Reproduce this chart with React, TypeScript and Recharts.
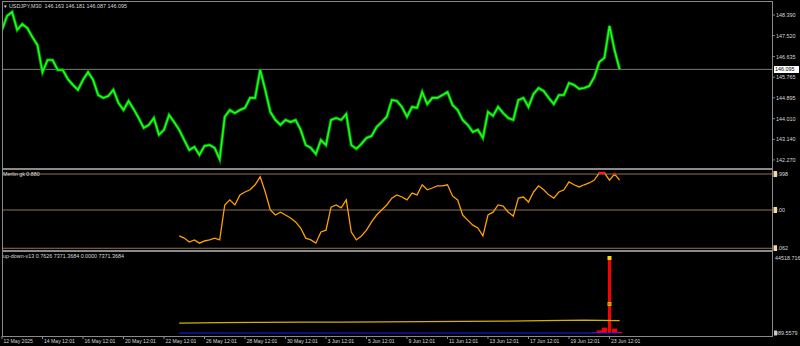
import React from "react";
import { ComposedChart, Line, XAxis, YAxis, ReferenceLine, Bar, Scatter } from "recharts";

// ---------- DATA ----------
const xTickLabels = [
  "12 May 2025", "14 May 12:01", "16 May 12:01", "20 May 12:01", "22 May 12:01",
  "26 May 12:01", "28 May 12:01", "30 May 12:01", "3 Jun 12:01", "5 Jun 12:01",
  "9 Jun 12:01", "11 Jun 12:01", "13 Jun 12:01", "17 Jun 12:01", "19 Jun 12:01",
  "23 Jun 12:01",
];
const xTickStep = 8; // points between date labels

// USDJPY M30 closes (sampled ~every 12 bars)
const closePrices = [
  147.76, 148.35, 148.52, 147.76, 148.01, 147.84, 147.46, 147.12, 145.98, 146.49,
  146.49, 146.07, 146.07, 145.69, 145.44, 145.23, 145.65, 145.98, 145.65, 145.01,
  144.89, 144.97, 145.23, 144.68, 144.38, 144.76, 144.42, 144.04, 143.62, 143.75,
  144.04, 143.33, 143.54, 144.17, 143.87, 143.54, 143.11, 142.69, 142.82, 142.48,
  142.86, 142.90, 142.78, 142.30, 144.09, 144.38, 144.25, 144.38, 144.47, 144.89,
  144.89, 146.07, 145.23, 144.30, 143.96, 143.75, 143.96, 143.87, 143.96, 143.54,
  142.90, 142.78, 142.52, 143.11, 142.90, 143.96, 144.04, 143.96, 144.21, 142.90,
  142.74, 142.95, 143.20, 143.28, 143.66, 143.87, 144.09, 144.80, 144.76, 144.51,
  144.09, 144.51, 144.47, 145.14, 144.63, 144.89, 144.89, 145.01, 145.14, 144.59,
  144.38, 143.96, 143.75, 143.45, 143.54, 143.20, 144.30, 144.13, 144.51, 144.25,
  144.04, 143.96, 144.80, 144.89, 144.51, 145.06, 145.31, 145.18, 144.89, 144.63,
  145.01, 145.01, 145.52, 145.44, 145.27, 145.31, 145.39, 145.77, 146.41, 146.58,
  147.93, 146.91, 146.10,
];
const priceTicks = [148.39, 147.52, 146.635, 145.765, 144.895, 144.01, 143.14, 142.27];
const bidPrice = 146.095;
const headerText = "USDJPY,M30  146.163 146.181 146.087 146.095";

// Merlin gk 0.880
const merlinStart = 35;
const merlinValues = [
  -0.72, -0.78, -0.89, -0.83, -0.92, -0.86, -0.83, -0.78, -0.83, 0.14,
  0.28, 0.14, 0.42, 0.50, 0.56, 0.70, 0.92, 0.50, 0.00, -0.14,
  -0.06, -0.14, -0.22, -0.33, -0.50, -0.78, -0.83, -0.92, -0.61, -0.56,
  0.08, 0.14, 0.06, 0.28, -0.61, -0.83, -0.72, -0.56, -0.33, -0.14,
  0.00, 0.14, 0.33, 0.42, 0.36, 0.28, 0.47, 0.42, 0.70, 0.56,
  0.61, 0.67, 0.67, 0.70, 0.39, 0.28, -0.14, -0.28, -0.42, -0.50,
  -0.72, -0.14, -0.06, 0.14, 0.11, -0.06, -0.17, 0.33, 0.36, 0.22,
  0.50, 0.67, 0.56, 0.42, 0.33, 0.50, 0.56, 0.78, 0.70, 0.64,
  0.70, 0.75, 0.83, 1.03, 1.03, 0.83, 1.00, 0.83,
];
const merlinLevels = [0.998, 0, -1.062];
const merlinLabels = ["0.998", "0.00", "1.062"];
const merlinTitle = "Merlin gk 0.880";

// up-down-v13
const udTitle = "up-down-v13 0.7626 7371.3684 0.0000 7371.3684";
const udYellowIdx = [35, 43, 51, 59, 67, 75, 83, 91, 99, 107, 115, 122];
const udYellowVal = [5900, 6100, 6300, 6400, 6500, 6600, 6750, 6850, 7050, 7350, 7650, 7371.3684];
const udBlueIdx = [35, 122];
const udBlueVal = [0, 0];
const udRedIdx = [116, 117, 118, 119, 120, 121, 122];
const udRedVal = [0, 400, 1500, 3200, 44518.716, 2600, 700];
const udMarkIdx = [120, 120];
const udMarkVal = [44518.716, 17200];
const udAxisLabels = ["44518.716", "989.5579"];
const udAxisValues = [44518.716, 0];

// ---------- STYLE ----------
const FONT = "'Liberation Sans', Arial, sans-serif";
const TXT = "#d8d8d8";
const FS = 5.4;
const X_DOMAIN: [number, number] = [0, 152.3];

const priceData = closePrices.map((p, i) => ({ i, p }));
const merlinData = merlinValues.map((v, k) => ({
  i: merlinStart + k,
  v,
  red: v >= merlinLevels[0] ? v : null,
}));
const yellowData = udYellowIdx.map((i, k) => ({ i, y: udYellowVal[k] }));
const blueData = udBlueIdx.map((i, k) => ({ i, b: udBlueVal[k] }));
const redData = udRedIdx.map((i, k) => ({ i, h: udRedVal[k] }));
const markData = udMarkIdx.map((i, k) => ({ i, m: udMarkVal[k], k }));
const xTicks = xTickLabels.map((_, k) => k * xTickStep);

const PriceTick = (props: any) => {
  const { x, y, payload } = props;
  return (
    <g>
      <line x1={x} x2={x + 2} y1={y} y2={y} stroke="#a0a0a0" strokeWidth={0.8} />
      <text x={x + 3} y={y + 2} fill={TXT} fontSize={FS} fontFamily={FONT}>
        {Number(payload.value).toFixed(3)}
      </text>
    </g>
  );
};

const MerlinTick = (props: any) => {
  const { x, y, payload, index } = props;
  return (
    <g>
      <text x={x + 1.5} y={y + 2} fill={TXT} fontSize={FS} fontFamily={FONT}>
        {merlinLabels[index] ?? payload.value}
      </text>
      <rect x={x + 0.5} y={y - 3} width={3.5} height={6} fill="#f2d9a6" />
    </g>
  );
};

const UdTick = (props: any) => {
  const { x, y, index } = props;
  return (
    <g>
      <text x={x + 2} y={y + 2} fill={TXT} fontSize={FS} fontFamily={FONT}>
        {udAxisLabels[index]}
      </text>
      {index === 1 ? <rect x={x + 1} y={y - 2.5} width={3} height={5} fill="#c8c8c8" /> : null}
    </g>
  );
};

const DateTick = (props: any) => {
  const { x, y, index } = props;
  return (
    <g>
      <line x1={x} x2={x} y1={y} y2={y + 3} stroke="#b0b0b0" strokeWidth={0.8} />
      <text x={x + 1.5} y={y + 6.5} fill={TXT} fontSize={FS - 0.3} fontFamily={FONT}>
        {xTickLabels[index]}
      </text>
    </g>
  );
};

const HistShape = (props: any) => {
  const { x, y, width, height, value } = props;
  const v = Array.isArray(value) ? value[1] : value;
  const w = v > 10000 ? 3 : 5.2;
  const cx = x + width / 2;
  return <rect x={cx - w / 2} y={y} width={w} height={Math.max(0, height)} fill="#ff0000" />;
};

const MarkShape = (props: any) => {
  const { cx, cy, payload } = props;
  if (payload.k === 0) {
    return <rect x={cx - 2} y={cy - 2} width={4} height={4} fill="#ffd700" />;
  }
  return (
    <g>
      <rect x={cx - 2} y={cy - 2} width={4} height={4} fill="#e8c000" />
      <line x1={cx - 1.5} y1={cy - 1.5} x2={cx + 1.5} y2={cy + 1.5} stroke="#8a5a00" strokeWidth={0.7} />
      <line x1={cx - 1.5} y1={cy + 1.5} x2={cx + 1.5} y2={cy - 1.5} stroke="#8a5a00" strokeWidth={0.7} />
    </g>
  );
};

const frame = (top: number, height: number): React.CSSProperties => ({
  position: "absolute",
  left: 2,
  top,
  width: 771,
  height,
  border: "1px solid #8a8a8a",
  boxSizing: "border-box",
  pointerEvents: "none",
});

const label = (left: number, top: number): React.CSSProperties => ({
  position: "absolute",
  left,
  top,
  color: TXT,
  fontFamily: FONT,
  fontSize: FS,
  whiteSpace: "pre",
  lineHeight: "7px",
});

export default function App() {
  return (
    <div style={{ position: "fixed", left: 0, top: 0, width: 800, height: 346, background: "#000", overflow: "hidden" }}>
      {/* Price pane */}
      <div style={{ position: "absolute", left: 0, top: 0 }}>
        <ComposedChart width={800} height={170} data={priceData} margin={{ top: 2, right: 0, left: 2, bottom: 2 }}>
          <XAxis type="number" dataKey="i" domain={X_DOMAIN} hide allowDataOverflow />
          <YAxis
            orientation="right"
            width={27}
            domain={[141.93, 148.94]}
            ticks={priceTicks}
            tick={<PriceTick />}
            tickLine={false}
            axisLine={false}
            tickSize={0}
            tickMargin={0}
            interval={0}
            allowDataOverflow
          />
          <ReferenceLine y={bidPrice} stroke="#7a7a7a" strokeWidth={1} />
          <Line type="linear" dataKey="p" stroke="#008a00" strokeWidth={3.2} dot={false} isAnimationActive={false} />
          <Line type="linear" dataKey="p" stroke="#1aff1a" strokeWidth={1.6} dot={false} isAnimationActive={false} />
        </ComposedChart>
      </div>
      <div style={{ position: "absolute", left: 774, top: 66, width: 25, height: 7, background: "#fff", color: "#000", fontFamily: FONT, fontSize: FS, lineHeight: "7px", paddingLeft: 1, boxSizing: "border-box" }}>
        {bidPrice.toFixed(3)}
      </div>

      {/* Merlin pane */}
      <div style={{ position: "absolute", left: 0, top: 169 }}>
        <ComposedChart width={800} height={82} data={merlinData} margin={{ top: 1, right: 0, left: 2, bottom: 1 }}>
          <XAxis type="number" dataKey="i" domain={X_DOMAIN} hide allowDataOverflow />
          <YAxis
            orientation="right"
            width={27}
            domain={[-1.11, 1.11]}
            ticks={merlinLevels}
            tick={<MerlinTick />}
            tickLine={false}
            axisLine={false}
            tickSize={0}
            tickMargin={0}
            interval={0}
            allowDataOverflow
          />
          {merlinLevels.map((lv) => (
            <ReferenceLine key={lv} y={lv} stroke="#8c7456" strokeWidth={1} />
          ))}
          <Line type="linear" dataKey="v" stroke="#ff9f00" strokeWidth={1.3} dot={false} isAnimationActive={false} />
          <Line type="linear" dataKey="red" stroke="#ff1a1a" strokeWidth={2} dot={{ r: 1.2, fill: "#ff1a1a", stroke: "none" }} connectNulls={false} isAnimationActive={false} />
        </ComposedChart>
      </div>

      {/* up-down pane */}
      <div style={{ position: "absolute", left: 0, top: 251 }}>
        <ComposedChart width={800} height={95} data={redData} margin={{ top: 1, right: 0, left: 2, bottom: 0 }}>
          <XAxis
            type="number"
            dataKey="i"
            domain={X_DOMAIN}
            ticks={xTicks}
            tick={<DateTick />}
            tickLine={false}
            axisLine={false}
            tickSize={0}
            tickMargin={0}
            interval={0}
            height={10}
            allowDataOverflow
          />
          <YAxis
            orientation="right"
            width={27}
            domain={[-1781, 48080]}
            ticks={udAxisValues}
            tick={<UdTick />}
            tickLine={false}
            axisLine={false}
            tickSize={0}
            tickMargin={0}
            interval={0}
            allowDataOverflow
          />
          <Bar dataKey="h" fill="#ff0000" barSize={5} shape={<HistShape />} isAnimationActive={false} />
          <Line data={yellowData} type="linear" dataKey="y" stroke="#d4b000" strokeWidth={1.2} dot={false} isAnimationActive={false} />
          <Line data={blueData} type="linear" dataKey="b" stroke="#1a1aff" strokeWidth={1.2} dot={false} isAnimationActive={false} />
          <Scatter data={markData} dataKey="m" shape={<MarkShape />} isAnimationActive={false} />
        </ComposedChart>
      </div>

      {/* frames */}
      <div style={frame(1, 168)} />
      <div style={frame(169, 82)} />
      <div style={frame(251, 86)} />

      {/* titles */}
      <div style={label(3, 3)}>
        <span style={{ fontSize: 4.5 }}>▼</span> {headerText}
      </div>
      <div style={label(3, 170.5)}>{merlinTitle}</div>
      <div style={label(3, 252.5)}>{udTitle}</div>
    </div>
  );
}
